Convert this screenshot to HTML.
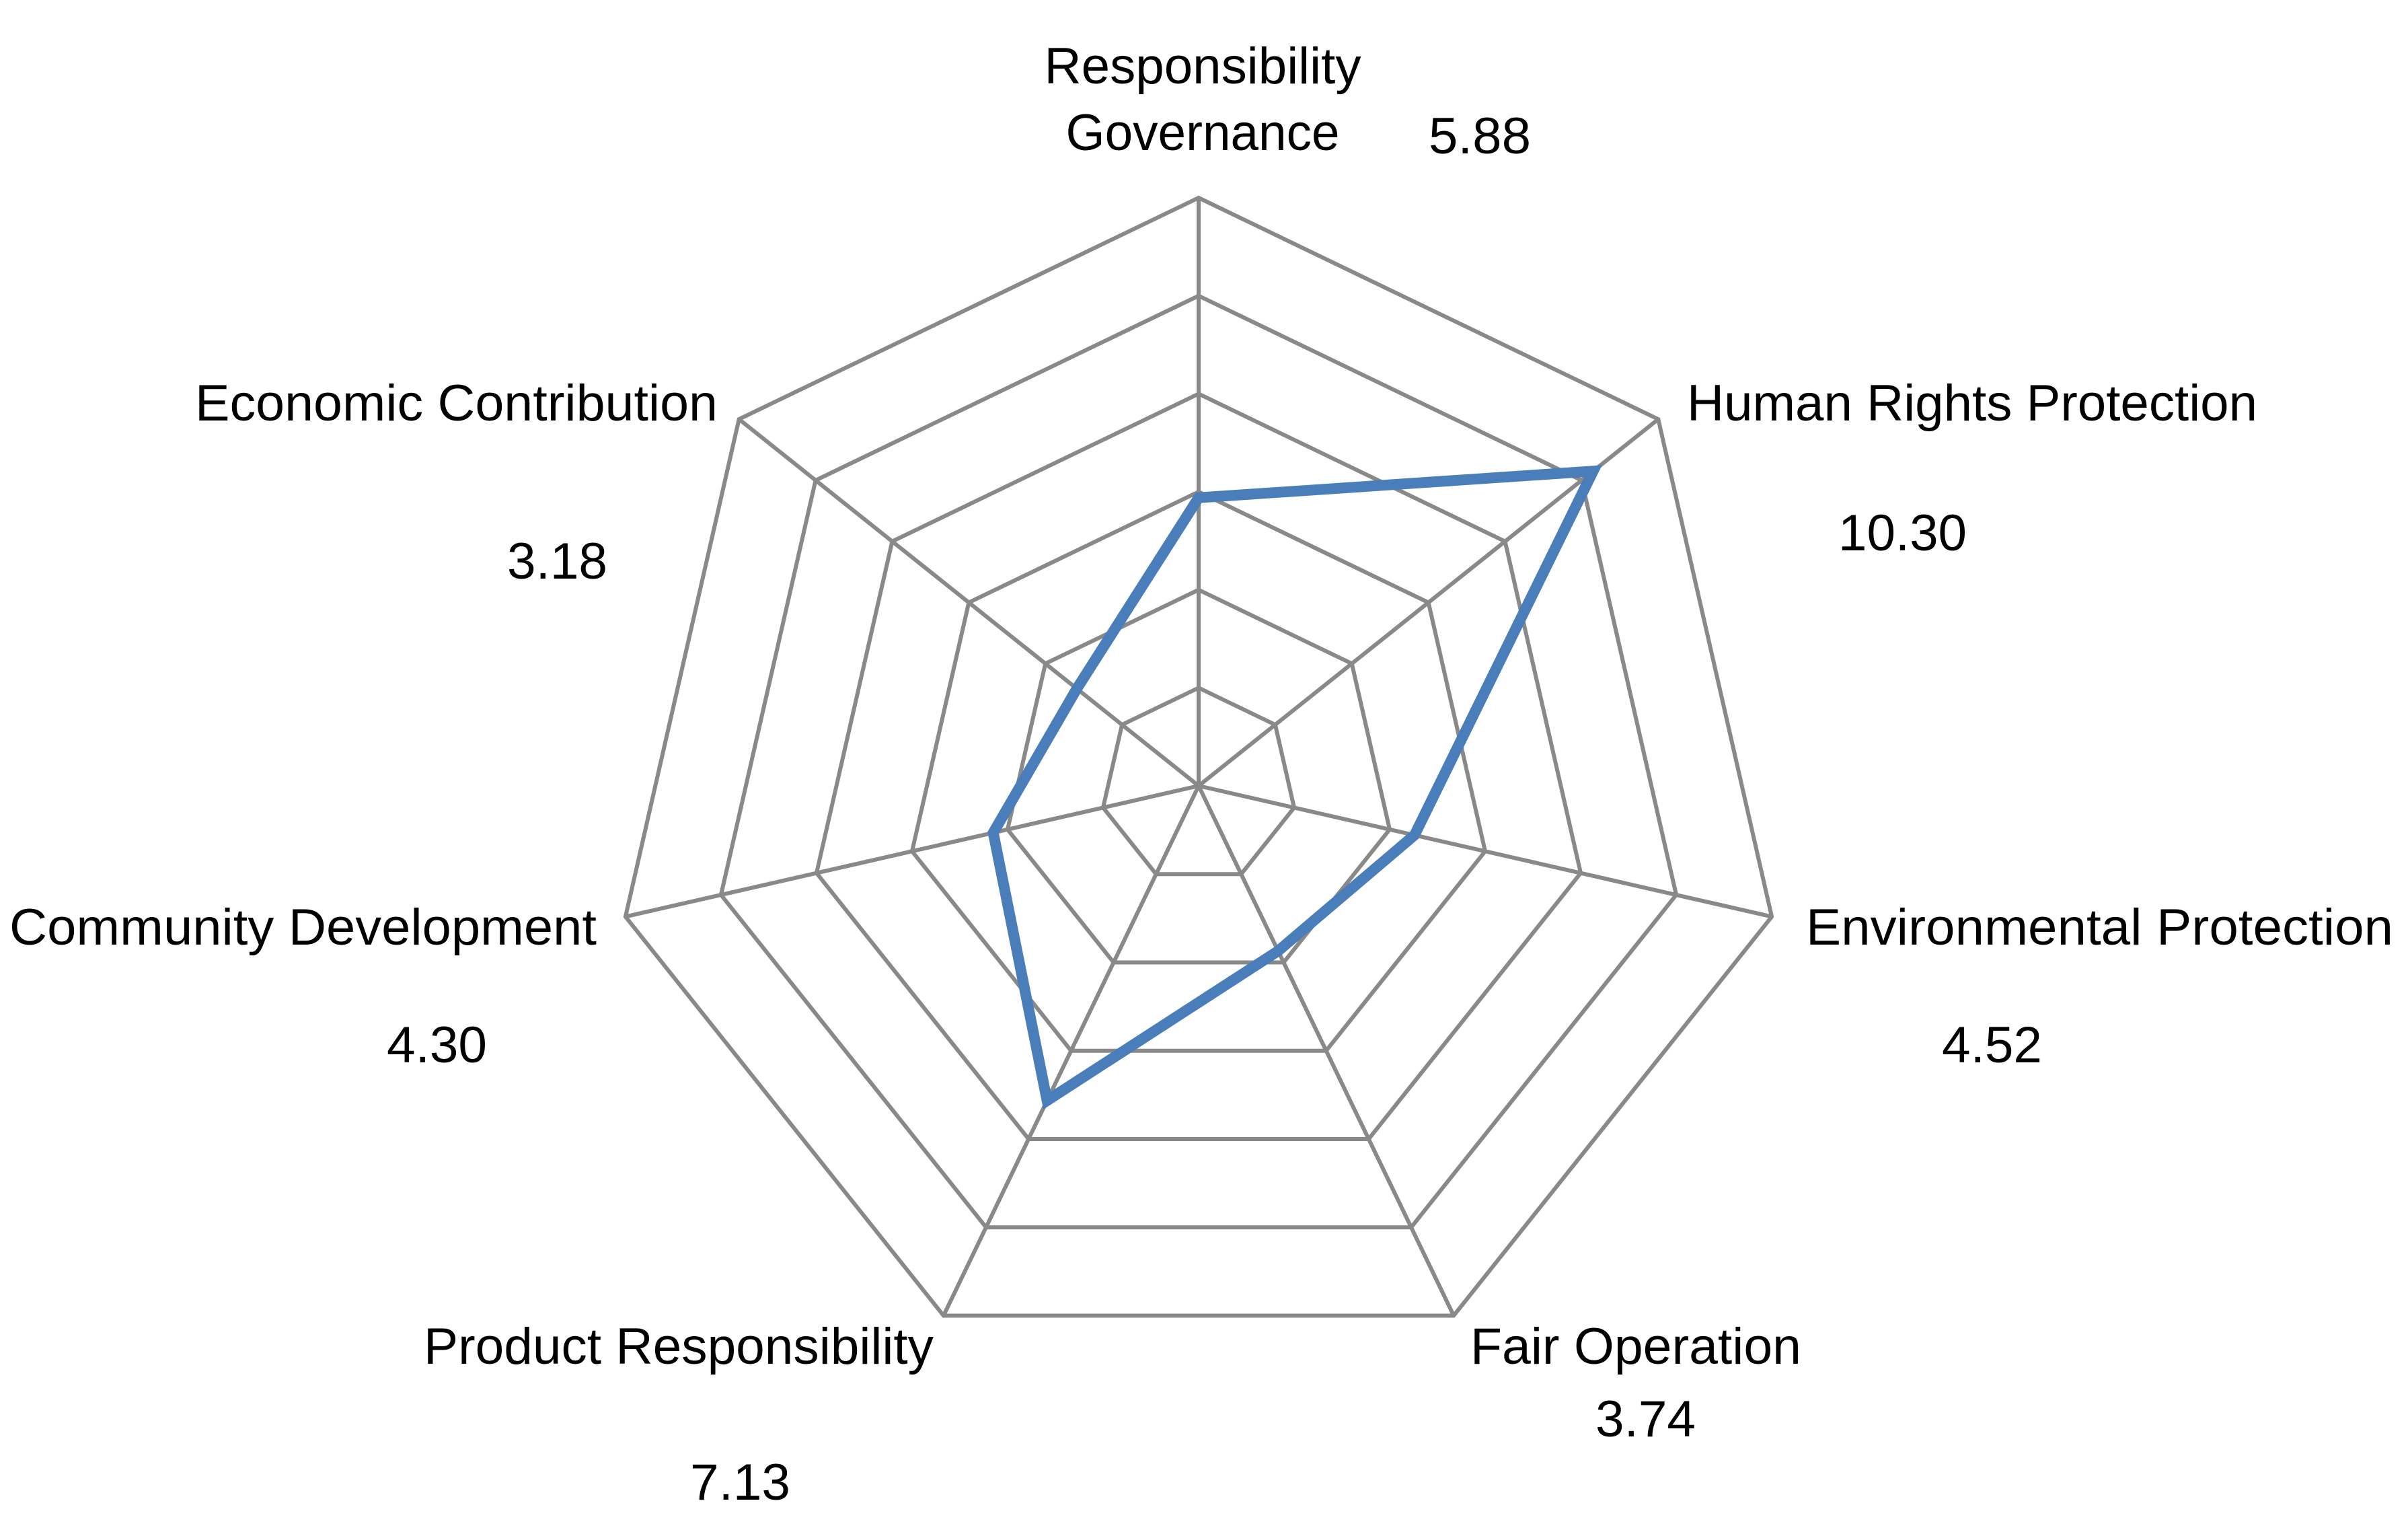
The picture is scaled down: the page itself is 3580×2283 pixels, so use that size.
<!DOCTYPE html>
<html><head><meta charset="utf-8"><style>
html,body{margin:0;padding:0;background:#fff;}
svg text{font-family:"Liberation Sans",sans-serif;font-size:76px;fill:#000;}
</style></head><body>
<svg id="chart" width="3580" height="2278" viewBox="0 0 3580 2278" xmlns="http://www.w3.org/2000/svg">
<g id="grid"></g>
<g id="series"></g>
<g id="labels" transform="translate(-4,-2)"></g>
</svg>
<script>
const categories = ["Responsibility Governance","Human Rights Protection","Environmental Protection","Fair Operation","Product Responsibility","Community Development","Economic Contribution"];
const values = [5.88, 10.30, 4.52, 3.74, 7.13, 4.30, 3.18];
const valueLabels = ["5.88","10.30","4.52","3.74","7.13","4.30","3.18"];
const ringTicks = [2,4,6,8,10,12];

const NS="http://www.w3.org/2000/svg";
const cx=1782, cy=1168, R=874, maxV=12;
const n=categories.length;
function ang(i){return -Math.PI/2 + i*2*Math.PI/n;}
function pt(i,v){const r=v/maxV*R;return [cx+r*Math.cos(ang(i)), cy+r*Math.sin(ang(i))];}
function mk(tag,attrs,parent){const e=document.createElementNS(NS,tag);for(const k in attrs)e.setAttribute(k,attrs[k]);parent.appendChild(e);return e;}

const grid=document.getElementById('grid');
ringTicks.forEach(t=>{
  const p=categories.map((c,i)=>pt(i,t).join(',')).join(' ');
  const e=mk('polygon',{points:p,fill:'none',stroke:'#898989','stroke-width':6,'stroke-linejoin':'miter'},grid);
  
  
});
categories.forEach((c,i)=>{
  const [x,y]=pt(i,maxV);
  const e=mk('line',{x1:cx,y1:cy,x2:x,y2:y,stroke:'#898989','stroke-width':6},grid);
  
  
});
const series=document.getElementById('series');
const sp=values.map((v,i)=>pt(i,v).join(',')).join(' ');
const poly=mk('polygon',{points:sp,fill:'none',stroke:'#4a7ebb','stroke-width':16,'stroke-linejoin':'miter'},series);



const labelLayout=[
 {lines:["Responsibility","Governance"],x:1792,y:[126,225],w:[471,407],a:'middle'},
 {lines:["Human Rights Protection"],x:2512,y:[627],w:[848],a:'start'},
 {lines:["Environmental Protection"],x:2689,y:[1406],w:[873],a:'start'},
 {lines:["Fair Operation"],x:2190,y:[2029],w:[492],a:'start'},
 {lines:["Product Responsibility"],x:634,y:[2029],w:[758],a:'start'},
 {lines:["Community Development"],x:18,y:[1406],w:[873],a:'start'},
 {lines:["Economic Contribution"],x:294,y:[627],w:[777],a:'start'}
];
const valueLayout=[[2128,230,152],[2737,820,191],[2891,1581,149],[2376,2137,149],[1030,2231,149],[579,1581,149],[758,862,149]];
const labels=document.getElementById('labels');
labelLayout.forEach((L,i)=>{
  L.lines.forEach((s,j)=>{
    const t=mk('text',{x:L.x,y:L.y[j],'text-anchor':L.a,textLength:L.w[j],lengthAdjust:'spacingAndGlyphs'},labels);
    t.textContent=s;
    
    
  });
  const v=valueLayout[i];
  const t=mk('text',{x:v[0],y:v[1],textLength:v[2],lengthAdjust:'spacingAndGlyphs'},labels);
  t.textContent=valueLabels[i];
  
  
});
</script>
</body></html>
